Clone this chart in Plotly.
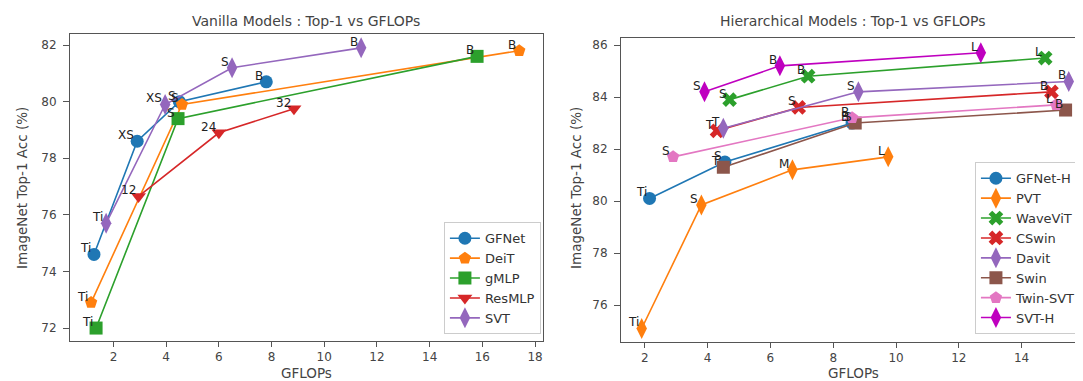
import plotly.graph_objects as go

# ---------------- Vanilla models ----------------
gfnet_x = [1.26, 2.9, 4.5, 7.8]
gfnet_y = [74.6, 78.6, 80.0, 80.7]
gfnet_lbl = ["Ti", "XS", "S", "B"]

deit_x = [1.15, 4.6, 17.4]
deit_y = [72.9, 79.9, 81.8]
deit_lbl = ["Ti", "S", "B"]

gmlp_x = [1.34, 4.45, 15.8]
gmlp_y = [72.0, 79.4, 81.6]
gmlp_lbl = ["Ti", "S", "B"]

resmlp_x = [2.95, 6.0, 8.85]
resmlp_y = [76.65, 78.9, 79.75]
resmlp_lbl = ["12", "24", "32"]

svt_x = [1.72, 3.96, 6.5, 11.4]
svt_y = [75.7, 79.9, 81.2, 81.9]
svt_lbl = ["Ti", "XS", "S", "B"]

# ---------------- Hierarchical models ----------------
gfneth_x = [2.15, 4.55, 8.6]
gfneth_y = [80.1, 81.5, 83.0]
gfneth_lbl = ["Ti", "S", "B"]

pvt_x = [1.9, 3.8, 6.7, 9.75]
pvt_y = [75.1, 79.85, 81.2, 81.7]
pvt_lbl = ["Ti", "S", "M", "L"]

wavevit_x = [4.7, 7.2, 14.75]
wavevit_y = [83.9, 84.8, 85.5]
wavevit_lbl = ["S", "B", "L"]

cswin_x = [4.3, 6.9, 14.95]
cswin_y = [82.7, 83.6, 84.2]
cswin_lbl = ["T", "S", "B"]

davit_x = [4.5, 8.8, 15.5]
davit_y = [82.8, 84.2, 84.6]
davit_lbl = ["T", "S", "B"]

swin_x = [4.5, 8.7, 15.4]
swin_y = [81.3, 83.0, 83.5]
swin_lbl = ["T", "S", "B"]

twin_x = [2.9, 8.6, 15.1]
twin_y = [81.7, 83.2, 83.7]
twin_lbl = ["S", "B", "L"]

svth_x = [3.9, 6.3, 12.7]
svth_y = [84.2, 85.2, 85.7]
svth_lbl = ["S", "B", "L"]

FONT = "DejaVu Sans"
fig = go.Figure()
annotations = []

def add(name, xs, ys, lbl, color, symbol, xa, ya, legend, size=13):
    fig.add_trace(go.Scatter(
        x=xs, y=ys, mode="lines+markers", name=name,
        line=dict(color=color, width=1.6),
        marker=dict(symbol=symbol, size=size, color=color, line=dict(width=0)),
        xaxis=xa, yaxis=ya, legend=legend, cliponaxis=False))
    for xv, yv, t in zip(xs, ys, lbl):
        annotations.append(dict(
            x=xv, y=yv, xref=xa, yref=ya, text=t, showarrow=False,
            xanchor="right", yanchor="bottom", xshift=-1, yshift=-3,
            font=dict(family=FONT, size=12, color="#222")))

add("GFNet", gfnet_x, gfnet_y, gfnet_lbl, "#1f77b4", "circle", "x", "y", "legend")
add("DeiT", deit_x, deit_y, deit_lbl, "#ff7f0e", "pentagon", "x", "y", "legend")
add("gMLP", gmlp_x, gmlp_y, gmlp_lbl, "#2ca02c", "square", "x", "y", "legend")
add("ResMLP", resmlp_x, resmlp_y, resmlp_lbl, "#d62728", "triangle-down", "x", "y", "legend")
add("SVT", svt_x, svt_y, svt_lbl, "#9467bd", "diamond-tall", "x", "y", "legend", 15)

add("GFNet-H", gfneth_x, gfneth_y, gfneth_lbl, "#1f77b4", "circle", "x2", "y2", "legend2")
add("PVT", pvt_x, pvt_y, pvt_lbl, "#ff7f0e", "diamond-tall", "x2", "y2", "legend2", 15)
add("WaveViT", wavevit_x, wavevit_y, wavevit_lbl, "#2ca02c", "x", "x2", "y2", "legend2")
add("CSwin", cswin_x, cswin_y, cswin_lbl, "#d62728", "x", "x2", "y2", "legend2")
add("Davit", davit_x, davit_y, davit_lbl, "#9467bd", "diamond-tall", "x2", "y2", "legend2", 15)
add("Swin", swin_x, swin_y, swin_lbl, "#8c564b", "square", "x2", "y2", "legend2")
add("Twin-SVT", twin_x, twin_y, twin_lbl, "#e377c2", "pentagon", "x2", "y2", "legend2")
add("SVT-H", svth_x, svth_y, svth_lbl, "#bf00bf", "diamond-tall", "x2", "y2", "legend2", 15)

axis_common = dict(showline=True, linecolor="#555", linewidth=1, mirror=True,
                   ticks="outside", tickcolor="#555", showgrid=False,
                   zeroline=False, automargin=False,
                   tickfont=dict(family=FONT, size=12, color="#444"))
xax = dict(ticklen=5, **axis_common)
yax = dict(ticklen=6, ticklabelstandoff=4, **axis_common)

L_DOM = [0, 0.4655]
R_DOM = [0.5423, 1.0]
title_font = dict(family=FONT, size=14, color="#444")
lab_font = dict(family=FONT, size=13.5, color="#444")

annotations += [
    dict(text="Vanilla Models : Top-1 vs GFLOPs", x=sum(L_DOM) / 2, y=1.0, xref="paper",
         yref="paper", xanchor="center", yanchor="middle", yshift=13, showarrow=False,
         font=title_font),
    dict(text="Hierarchical Models : Top-1 vs GFLOPs", x=sum(R_DOM) / 2, y=1.0,
         xref="paper", yref="paper", xanchor="center", yanchor="middle", yshift=13,
         showarrow=False, font=title_font),
    dict(text="GFLOPs", x=sum(L_DOM) / 2, y=0, xref="paper", yref="paper",
         xanchor="center", yanchor="middle", yshift=-31, showarrow=False, font=lab_font),
    dict(text="GFLOPs", x=sum(R_DOM) / 2, y=0, xref="paper", yref="paper",
         xanchor="center", yanchor="middle", yshift=-31, showarrow=False, font=lab_font),
    dict(text="ImageNet Top-1 Acc (%)", x=L_DOM[0], y=0.5, xref="paper", yref="paper",
         xanchor="center", yanchor="middle", xshift=-48, textangle=-90, showarrow=False,
         font=lab_font),
    dict(text="ImageNet Top-1 Acc (%)", x=R_DOM[0], y=0.5, xref="paper", yref="paper",
         xanchor="center", yanchor="middle", xshift=-45, textangle=-90, showarrow=False,
         font=lab_font),
]

legend_common = dict(bgcolor="rgba(255,255,255,0.8)", bordercolor="#ccc", borderwidth=1,
                     font=dict(family=FONT, size=13, color="#333"), tracegroupgap=0,
                     xanchor="right", yanchor="bottom")

fig.update_layout(
    width=1083, height=381, plot_bgcolor="white", paper_bgcolor="white",
    margin=dict(l=62, r=5, t=26, b=47, autoexpand=False),
    showlegend=True,
    xaxis=dict(domain=L_DOM, range=[0.35, 18.3], dtick=2, anchor="y", **xax),
    yaxis=dict(domain=[0.003, 1], range=[71.54, 82.39], dtick=2, anchor="x", **yax),
    xaxis2=dict(domain=R_DOM, range=[1.24, 16.05], dtick=2, anchor="y2", **xax),
    yaxis2=dict(domain=[0, 0.987], range=[74.58, 86.27], dtick=2, anchor="x2", **yax),
    legend=dict(x=L_DOM[1] - 0.002, y=0.025, **legend_common),
    legend2=dict(x=0.996, y=0.025, **legend_common),
    annotations=annotations,
)

fig.write_html("out.html")
